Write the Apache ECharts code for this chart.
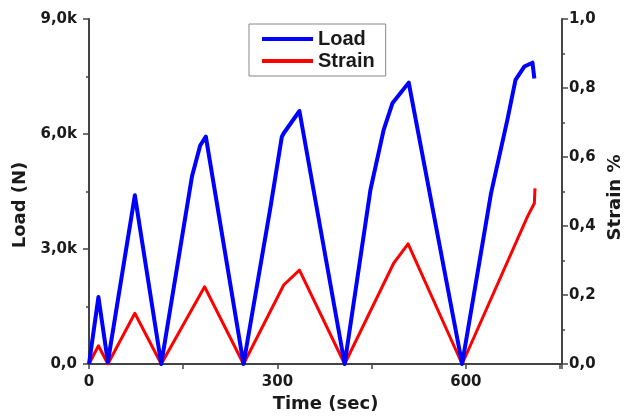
<!DOCTYPE html>
<html>
<head>
<meta charset="utf-8">
<script src="https://cdn.jsdelivr.net/npm/echarts@6/dist/echarts.min.js"></script>
<style>
  html, body { margin: 0; padding: 0; background: #fff; }
  #chart { width: 625px; height: 417px; }
</style>
</head>
<body>
<div id="chart"></div>
<script>
// Load (N) vs time (sec)
const loadTime = [0, 15, 30, 73, 115, 164, 177, 186, 246, 289, 307, 310, 335, 407, 448, 469, 483, 509, 594, 640, 666, 679, 693, 706, 709]
const loadValues = [0, 1750, 50, 4400, 0, 4900, 5700, 5930, 0, 4100, 5930, 6020, 6600, 0, 4540, 6100, 6800, 7340, 0, 4450, 6370, 7410, 7760, 7860, 7450]

// Strain % vs time (sec)
const strainTime = [0, 15, 30, 73, 115, 184, 246, 310, 335, 407, 485, 508, 594, 698, 709, 710]
const strainValues = [0, 0.053, 0, 0.147, 0, 0.224, 0, 0.229, 0.272, 0, 0.292, 0.348, 0, 0.427, 0.466, 0.509]

const pairs = (xs, ys) => xs.map((x, i) => [x, ys[i]])

const labelFont = 'DejaVu Sans, sans-serif'
const legendFont = 'Liberation Sans, Arial, sans-serif'
const axisColor = '#444'
const textColor = '#1a1a1a'

const tickLabel = { fontFamily: labelFont, fontWeight: 'bold', fontSize: 15, color: textColor }
const axisName = { fontFamily: labelFont, fontWeight: 'bold', fontSize: 18, color: textColor }

const chart = echarts.init(document.getElementById('chart'))

const option = {
  backgroundColor: '#fff',
  animation: false,
  grid: { left: 89, right: 63, top: 19, bottom: 53, outerBoundsMode: 'none' },
  legend: {
    orient: 'vertical',
    left: 249,
    top: 24,
    icon: 'rect',
    itemWidth: 51,
    itemHeight: 4,
    itemGap: 2,
    padding: [5, 11, 5, 13],
    borderColor: '#888',
    borderWidth: 1,
    textStyle: { fontFamily: legendFont, fontWeight: 'bold', fontSize: 20, color: textColor },
    data: ['Load', 'Strain']
  },
  xAxis: {
    type: 'value',
    min: 0,
    max: 753,
    interval: 150,
    name: 'Time (sec)',
    nameLocation: 'middle',
    nameGap: 31,
    nameTextStyle: axisName,
    axisLine: { show: true, lineStyle: { color: axisColor, width: 2 } },
    axisTick: { show: true, length: 5, lineStyle: { color: axisColor, width: 1.5 } },
    axisLabel: {
      margin: 11,
      ...tickLabel,
      formatter: v => (v % 300 === 0 ? String(v) : '')
    },
    splitLine: { show: false }
  },
  yAxis: [
    {
      type: 'value',
      min: 0,
      max: 9000,
      interval: 3000,
      name: 'Load (N)',
      nameLocation: 'middle',
      nameRotate: 90,
      nameGap: 56,
      nameTextStyle: { ...axisName, padding: [0, 27, 0, 0] },
      axisLine: { show: true, lineStyle: { color: axisColor, width: 2 } },
      axisTick: { show: true, length: 6, lineStyle: { color: axisColor, width: 1.5 } },
      minorTick: { show: true, splitNumber: 2, length: 3, lineStyle: { color: axisColor, width: 1.5 } },
      axisLabel: {
        margin: 12,
        ...tickLabel,
        formatter: v => (v === 0 ? '0,0' : (v / 1000).toFixed(1).replace('.', ',') + 'k')
      },
      splitLine: { show: false }
    },
    {
      type: 'value',
      position: 'right',
      min: 0,
      max: 1,
      interval: 0.2,
      name: 'Strain %',
      nameLocation: 'middle',
      nameRotate: 90,
      nameGap: 35,
      nameTextStyle: { ...axisName, padding: [0, 12, 0, 0] },
      axisLine: { show: true, lineStyle: { color: axisColor, width: 2 } },
      axisTick: { show: true, length: 6, lineStyle: { color: axisColor, width: 1.5 } },
      minorTick: { show: true, splitNumber: 2, length: 3, lineStyle: { color: axisColor, width: 1.5 } },
      axisLabel: {
        margin: 7,
        ...tickLabel,
        formatter: v => v.toFixed(1).replace('.', ',')
      },
      splitLine: { show: false }
    }
  ],
  series: [
    {
      name: 'Load',
      type: 'line',
      yAxisIndex: 0,
      data: pairs(loadTime, loadValues),
      showSymbol: false,
      itemStyle: { color: '#0000ff' },
      lineStyle: { color: '#0000ff', width: 4, join: 'round' },
      z: 3
    },
    {
      name: 'Strain',
      type: 'line',
      yAxisIndex: 1,
      data: pairs(strainTime, strainValues),
      showSymbol: false,
      itemStyle: { color: '#ff0000' },
      lineStyle: { color: '#ff0000', width: 3, join: 'round' },
      z: 2
    }
  ]
}

chart.setOption(option)
</script>
</body>
</html>
